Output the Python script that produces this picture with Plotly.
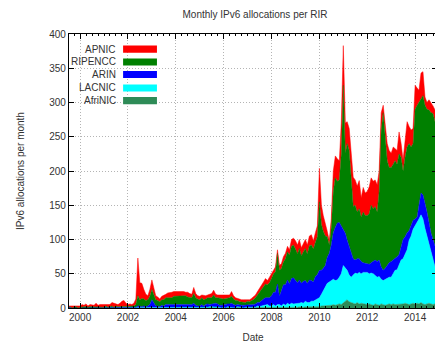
import plotly.graph_objects as go
import pandas as pd

# Monthly values, 1999-07 .. 2014-12
months = pd.date_range("1999-07-01", "2014-12-01", freq="MS")

apnic = [
    2,1,3,2,1,2,
    2,3,2,4,2,3,2,3,5,2,3,4,
    3,2,4,3,5,6,4,3,5,7,8,4,
    3,4,3,4,8,55,25,22,14,9,6,10,
    14,8,6,5,4,5,6,5,7,6,8,7,
    7,6,8,7,6,5,7,6,5,9,6,5,
    5,4,6,5,4,5,6,7,5,4,5,6,
    5,4,5,4,7,5,4,3,3,3,3,4,
    3,3,3,4,4,5,6,7,7,8,6,8,
    7,5,7,5,7,7,8,8,8,8,10,10,
    12,13,13,12,13,13,13,14,15,12,14,16,
    49,28,23,20,8,6,12,30,32,33,28,45,
    58,44,32,32,35,43,37,38,41,28,36,33,
    35,39,40,40,39,40,30,25,11,20,25,25,
    21,25,18,20,32,20,16,30,37,25,25,22,
    35,25,18,38,35,12,10,15,15,11,19,25,
]
ripencc = [
    1,1,0,1,1,0,
    1,1,2,1,1,2,1,1,2,1,2,1,
    1,2,1,2,2,1,2,1,2,2,3,2,
    2,1,2,2,4,15,10,12,10,9,9,12,
    15,12,9,8,7,8,9,10,10,11,10,12,
    12,13,11,12,13,12,11,10,10,14,11,10,
    9,10,9,8,9,10,9,12,8,9,10,9,
    8,9,8,9,10,8,7,6,5,5,5,4,
    6,5,6,7,9,11,14,16,18,20,19,22,
    25,27,30,45,38,33,33,38,41,42,47,48,
    45,42,46,40,43,47,43,50,52,48,50,55,
    100,67,54,43,30,12,26,60,72,61,62,105,
    210,117,141,140,110,76,80,68,73,65,74,70,
    70,74,84,77,78,72,100,200,230,187,153,139,
    137,140,143,135,147,130,100,116,125,127,115,112,
    160,163,150,137,145,142,150,164,176,184,180,175,
]
arin = [
    0,1,0,0,1,0,
    0,1,0,1,0,0,1,0,0,1,0,0,
    0,1,0,0,1,0,1,0,0,1,0,1,
    0,1,0,1,1,3,2,2,3,2,3,5,
    12,6,3,3,2,4,3,4,5,5,4,5,
    5,4,6,5,4,6,5,4,5,6,4,3,
    3,4,3,4,5,3,4,6,5,4,3,4,
    4,5,4,5,6,4,4,3,3,3,4,3,
    3,3,4,4,5,5,6,8,9,10,10,12,
    15,18,20,30,12,22,28,30,34,30,36,38,
    35,30,34,28,32,30,28,33,30,28,34,35,
    40,35,33,32,38,42,52,68,78,83,80,70,
    53,51,44,42,35,24,19,22,20,18,14,13,
    13,14,15,18,23,23,24,18,15,16,18,21,
    23,20,17,19,16,20,28,25,25,14,15,13,
    10,9,20,32,35,38,35,30,29,30,30,30,
]
lacnic = [
    0,0,0,0,0,0,
    0,0,0,0,0,0,0,0,0,0,0,0,
    0,0,0,0,0,0,0,1,0,0,0,0,
    0,0,0,0,0,0,0,0,0,0,0,0,
    0,0,0,0,0,0,0,1,0,0,1,0,
    0,1,0,0,1,0,0,1,0,1,0,0,
    0,1,0,1,1,2,1,1,2,1,1,0,
    1,0,1,1,1,1,0,1,1,1,0,1,
    1,1,1,1,1,2,2,3,4,5,4,3,
    3,4,3,5,4,3,5,4,6,5,6,5,
    5,6,5,7,6,8,7,6,8,9,10,12,
    13,17,22,26,33,34,36,37,36,36,39,45,
    54,48,43,39,37,41,45,42,46,43,46,47,
    47,44,46,46,41,40,42,36,35,38,39,39,
    40,44,50,51,56,65,66,72,79,94,99,108,
    114,117,124,128,124,111,99,88,74,65,54,50,
]
afrinic = [
    0,0,0,0,0,0,
    0,0,0,0,0,0,0,0,0,0,0,0,
    0,0,0,0,0,0,0,0,0,0,0,0,
    0,0,0,0,0,0,0,0,0,0,0,0,
    0,0,0,0,0,0,0,0,0,0,0,0,
    0,0,0,0,0,0,0,0,0,0,0,0,
    0,0,0,0,0,0,1,0,0,1,0,0,
    0,0,1,0,0,0,0,1,0,0,0,0,
    0,0,0,0,0,1,0,0,0,0,1,0,
    0,1,0,0,1,0,1,0,1,0,1,1,
    1,1,2,1,1,2,1,2,2,1,2,2,
    2,3,3,4,3,4,4,5,4,5,6,5,
    8,10,12,9,8,7,6,8,6,7,6,5,
    5,6,5,4,6,5,4,6,5,4,5,6,
    5,6,5,5,6,5,6,7,6,5,6,7,
    6,7,6,8,6,5,6,7,6,5,6,5,
]

names = ["APNIC", "RIPENCC", "ARIN", "LACNIC", "AfriNIC"]
colors = {"APNIC": "#ff0000", "RIPENCC": "#008000", "ARIN": "#0000ff",
          "LACNIC": "#00ffff", "AfriNIC": "#2e8b57"}
series = {"APNIC": apnic, "RIPENCC": ripencc, "ARIN": arin,
          "LACNIC": lacnic, "AfriNIC": afrinic}

fig = go.Figure()
for n in ["AfriNIC", "LACNIC", "ARIN", "RIPENCC", "APNIC"]:
    fig.add_trace(go.Scatter(
        x=months, y=series[n], name=n, stackgroup="one",
        mode="lines", line=dict(width=0.5, color=colors[n]),
        fillcolor=colors[n], showlegend=False,
    ))

# page has an 8px body margin: figure is sized to fill the rest of the window
font = "Liberation Sans, Arial, sans-serif"
fig.update_layout(
    width=435, height=335,
    margin=dict(l=61, r=6, t=26, b=35, autoexpand=False),
    paper_bgcolor="white", plot_bgcolor="white",
    font=dict(family=font, size=10, color="#333333"),
    title=dict(text="Monthly IPv6 allocations per RIR", x=0.568, xanchor="center",
               y=0.982, yanchor="middle", font=dict(size=10, color="#333333")),
)
fig.update_xaxes(
    range=["1999-07-16", "2014-12-01"], automargin=False,
    tickformat="%Y", dtick="M24", tick0="2000-01-01",
    ticks="inside", ticklen=5, tickcolor="black",
    showline=True, linecolor="black", linewidth=1.2, mirror="allticks",
    showgrid=True, gridcolor="#b4b4b4", griddash="1px,2px", gridwidth=1,
    minor=dict(dtick="M3", tick0="2000-01-01", ticks="inside", ticklen=2, tickcolor="black", showgrid=False),
    title=dict(text="Date", standoff=12, font=dict(size=10)),
    zeroline=False,
)
fig.update_yaxes(
    range=[0, 400], dtick=50, automargin=False,
    ticks="inside", ticklen=5, tickcolor="black",
    showline=True, linecolor="black", linewidth=1.2, mirror="allticks",
    showgrid=True, gridcolor="#b4b4b4", griddash="1px,2px", gridwidth=1,
    title=dict(text="IPv6 allocations per month", standoff=22, font=dict(size=10)),
    zeroline=False,
)

# gnuplot-style key: label right-aligned, swatch to its right
rows_y = [0.945, 0.898, 0.852, 0.803, 0.757]
for n, yy in zip(names, rows_y):
    fig.add_annotation(text=n, xref="paper", yref="paper", x=0.132, y=yy,
                       xanchor="right", yanchor="middle", showarrow=False,
                       font=dict(size=10, color="#333333"))
    fig.add_shape(type="rect", xref="paper", yref="paper",
                  x0=0.147, x1=0.239, y0=yy - 0.013, y1=yy + 0.013,
                  fillcolor=colors[n], line=dict(width=0))

fig.write_html("out.html")
